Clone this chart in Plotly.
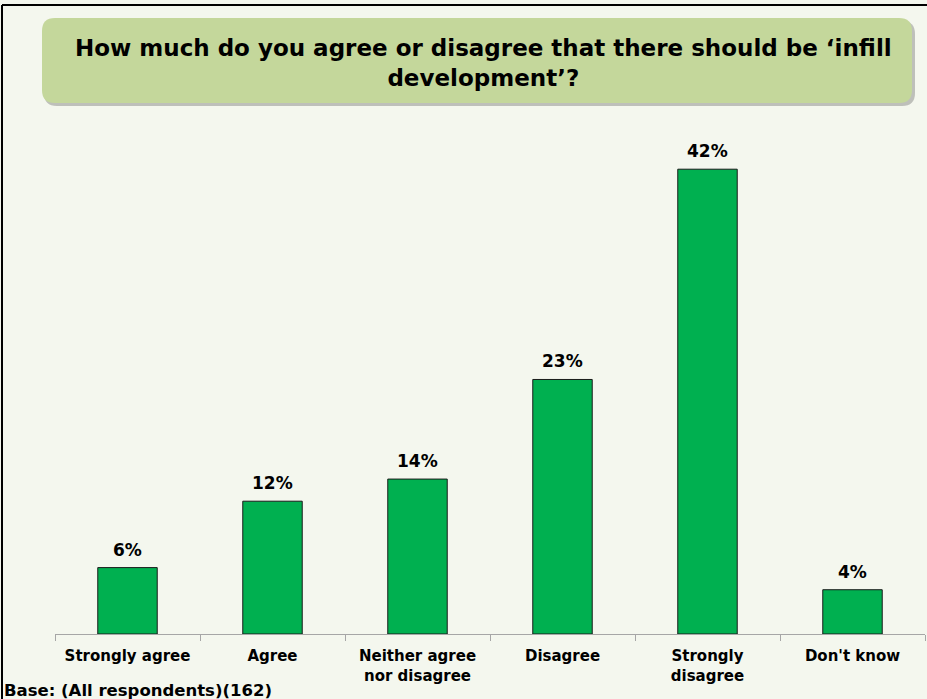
import plotly.graph_objects as go

# Survey results
categories = ["Strongly agree", "Agree", "Neither agree<br>nor disagree",
              "Disagree", "Strongly<br>disagree", "Don't know"]
percentages = [6, 12, 14, 23, 42, 4]
value_labels = ["6%", "12%", "14%", "23%", "42%", "4%"]

title_text = "How much do you agree or disagree that there should be ‘infill<br>development’?"
base_text = "Base: (All respondents)(162)"

W, H = 927, 699
FONT = "DejaVu Sans"
BG = "#F4F7EE"


def px_x(p):
    return p / W


def px_y(p):
    return (H - p) / H


def rounded_rect(x0, y0, x1, y1, r):
    """SVG path (paper coords) for a rounded rectangle given in pixel coords."""
    X = px_x
    Y = px_y
    pts = [
        f"M{X(x0 + r)},{Y(y0)}",
        f"L{X(x1 - r)},{Y(y0)}",
        f"Q{X(x1)},{Y(y0)} {X(x1)},{Y(y0 + r)}",
        f"L{X(x1)},{Y(y1 - r)}",
        f"Q{X(x1)},{Y(y1)} {X(x1 - r)},{Y(y1)}",
        f"L{X(x0 + r)},{Y(y1)}",
        f"Q{X(x0)},{Y(y1)} {X(x0)},{Y(y1 - r)}",
        f"L{X(x0)},{Y(y0 + r)}",
        f"Q{X(x0)},{Y(y0)} {X(x0 + r)},{Y(y0)}",
        "Z",
    ]
    return " ".join(pts)


fig = go.Figure()
fig.add_trace(go.Bar(
    x=categories,
    y=percentages,
    marker=dict(color="#00B050", line=dict(color="#1A1A1A", width=1)),
    width=0.41,
    hoverinfo="skip",
))

# value labels above each bar
annotations = []
for cat, val, lab in zip(categories, percentages, value_labels):
    annotations.append(dict(
        x=cat, y=val, xref="x", yref="y", text=f"<b>{lab}</b>",
        showarrow=False, yanchor="bottom", yshift=6,
        font=dict(family=FONT, size=17, color="#000000"),
    ))

# title inside the green banner
annotations.append(dict(
    x=px_x(483), y=px_y(63), xref="paper", yref="paper",
    text=f"<b>{title_text}</b>", showarrow=False,
    xanchor="center", yanchor="middle",
    font=dict(family=FONT, size=23, color="#000000"),
))

# base note
annotations.append(dict(
    x=px_x(2), y=px_y(690), xref="paper", yref="paper",
    text=f"<b>{base_text}</b>", showarrow=False,
    xanchor="left", yanchor="middle",
    font=dict(family=FONT, size=16.5, color="#000000"),
))

shapes = [
    # frame lines (top and left)
    dict(type="line", xref="paper", yref="paper",
         x0=px_x(2), x1=px_x(W), y0=px_y(5), y1=px_y(5),
         line=dict(color="#000000", width=2)),
    dict(type="line", xref="paper", yref="paper",
         x0=px_x(2), x1=px_x(2), y0=px_y(5), y1=px_y(H),
         line=dict(color="#000000", width=2)),
    # banner shadow
    dict(type="path", xref="paper", yref="paper",
         path=rounded_rect(44, 21, 915, 106, 13),
         fillcolor="rgba(90,90,90,0.35)", line=dict(width=0), layer="below"),
    # banner
    dict(type="path", xref="paper", yref="paper",
         path=rounded_rect(42, 18, 912, 103, 13),
         fillcolor="#C4D79B", line=dict(width=0), layer="below"),
]

fig.update_layout(
    width=W, height=H,
    margin=dict(l=0, r=0, t=0, b=0),
    paper_bgcolor=BG, plot_bgcolor=BG,
    showlegend=False,
    bargap=0.59,
    annotations=annotations,
    shapes=shapes,
    xaxis=dict(
        domain=[px_x(55), px_x(925)],
        showline=True, linecolor="#A6A6A6", linewidth=1,
        ticks="outside", tickson="boundaries", ticklen=6,
        tickcolor="#A6A6A6", showgrid=False,
        ticklabelstandoff=8,
        tickfont=dict(family=FONT, size=15, color="#000000"),
        tickprefix="<b>", ticksuffix="</b>",
    ),
    yaxis=dict(
        domain=[px_y(634), px_y(136)],
        range=[0, 45], visible=False, showgrid=False,
    ),
)

fig.write_html("out.html")
